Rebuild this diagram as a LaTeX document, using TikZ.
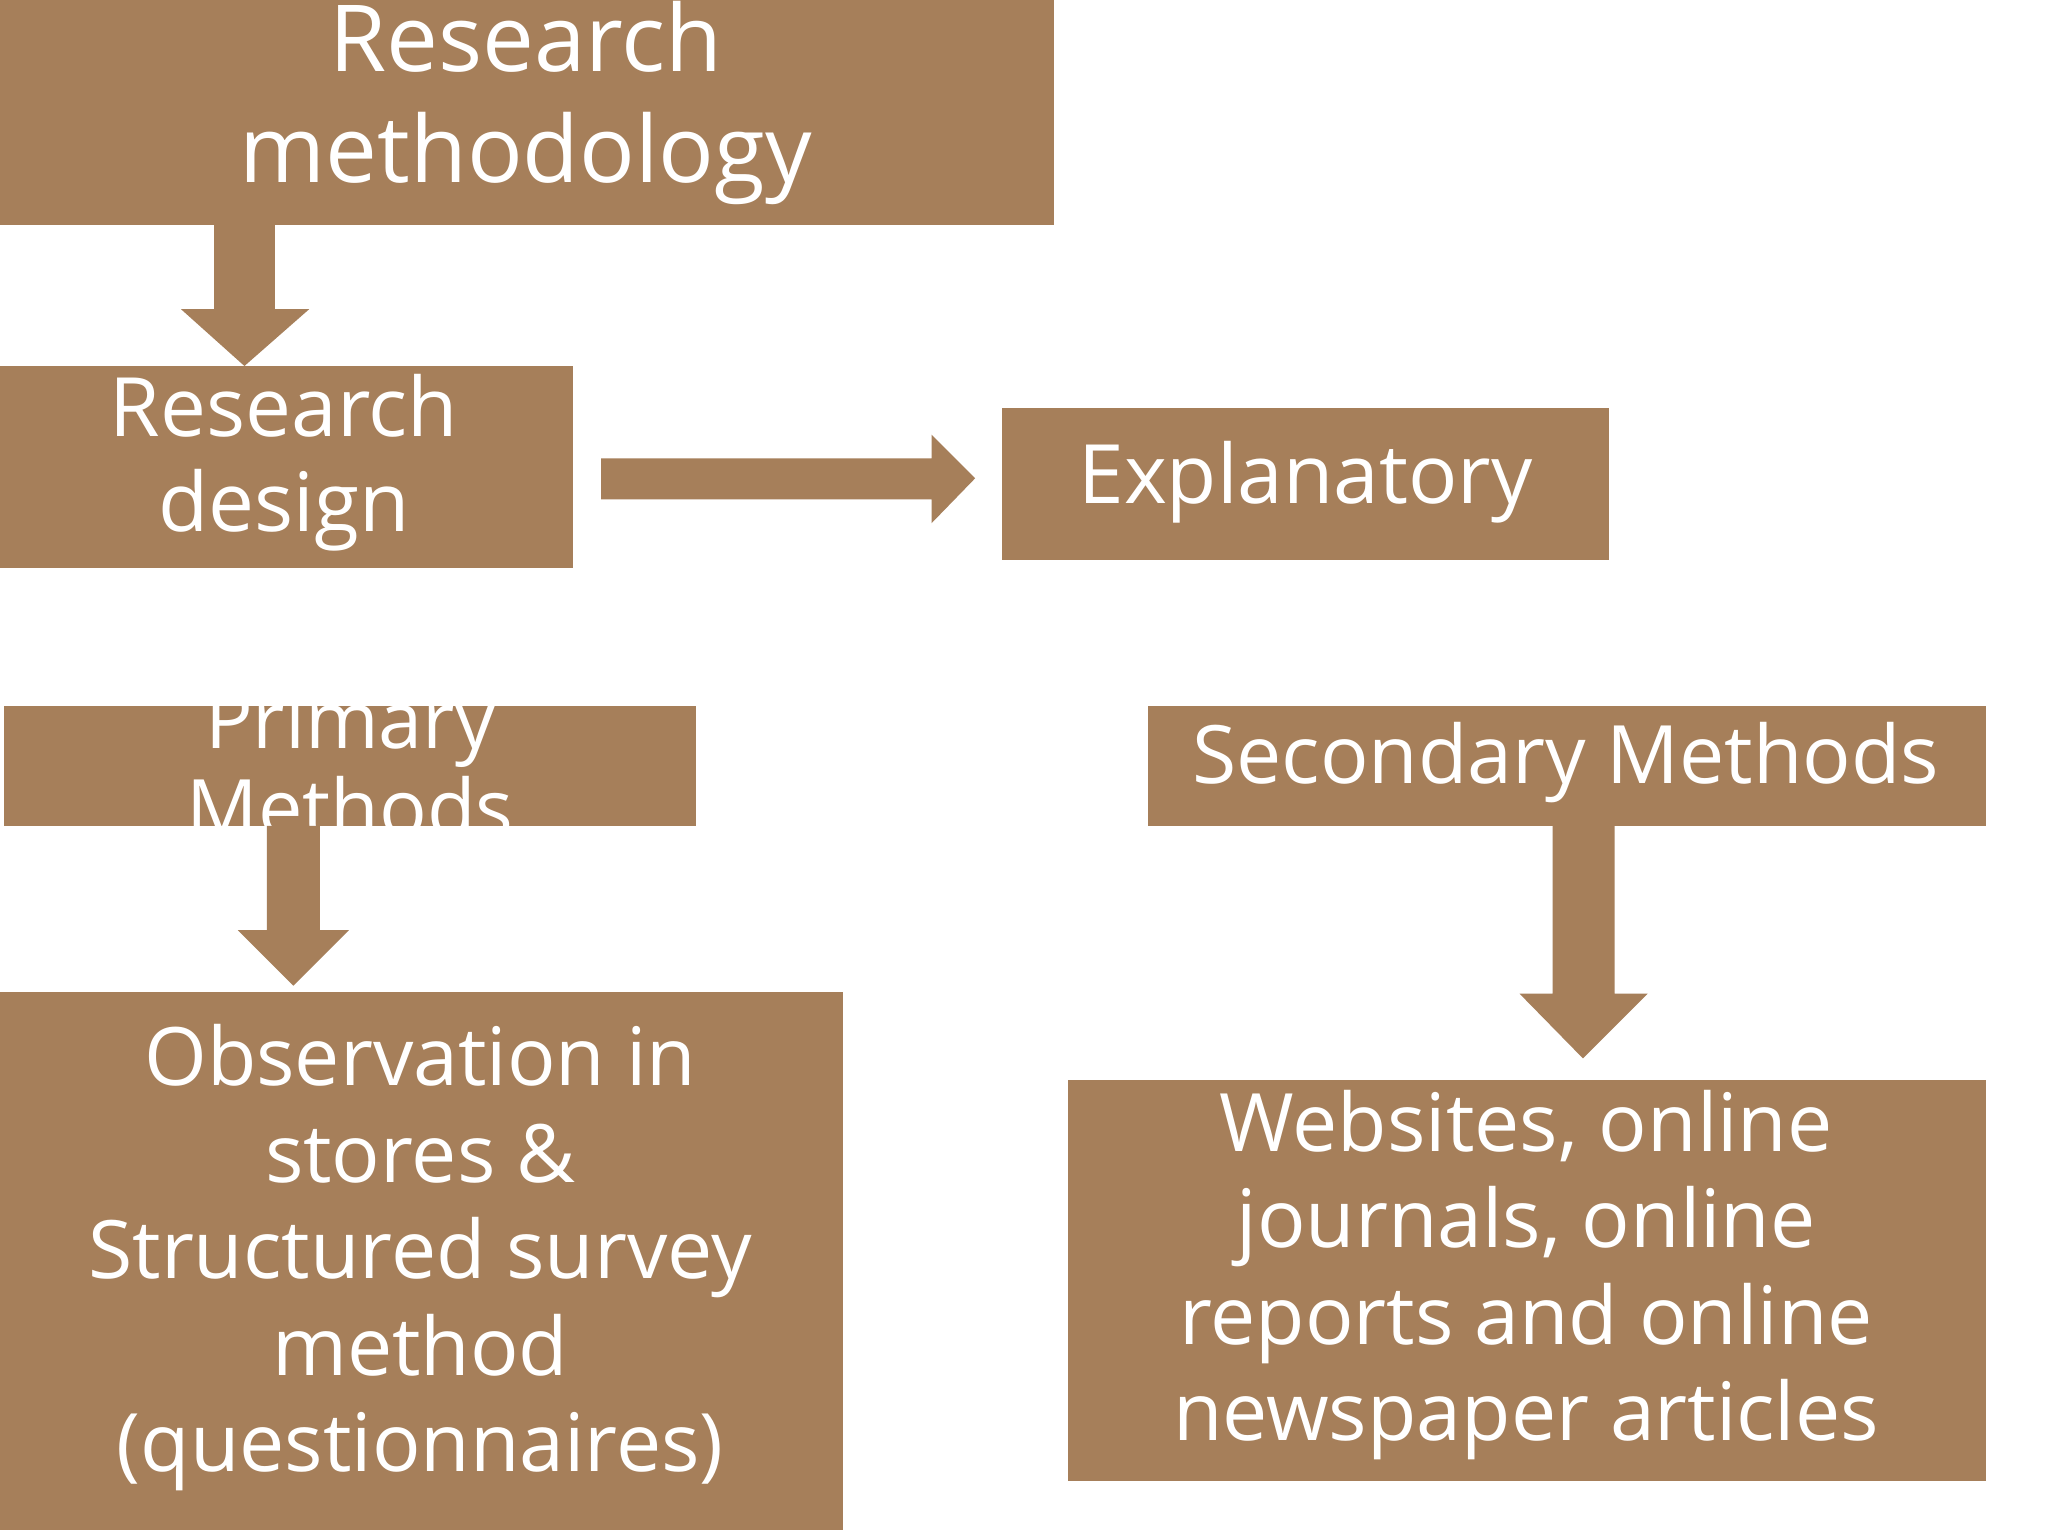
\documentclass[tikz,border=0pt]{standalone}
\usepackage{fontspec}
\setmainfont{Open Sans}
\definecolor{box}{HTML}{A67F5A}
\begin{document}
\begin{tikzpicture}[x=0.5pt,y=-0.5pt,
  bx/.style={fill=box,draw=none},
  tx/.style={text=white,align=center,inner sep=0pt}]
\useasboundingbox (0,0) rectangle (1550,1162);
\fill[white] (0,0) rectangle (1550,1162);
% boxes
\fill[bx] (0,0) rectangle (798,170);
\node[tx,font=\fontsize{35}{42}\selectfont] (rm) at (398,78) {Research\\methodology};
\fill[bx] (0,277) rectangle (434,430);
\node[tx,font=\fontsize{31}{36}\selectfont] (rd) at (215,350) {Research\\design};
\fill[bx] (758,309) rectangle (1218,424);
\node[tx,font=\fontsize{31}{36}\selectfont] (ex) at (988,365) {Explanatory};
\fill[bx] (3,534) rectangle (527,625);
\begin{scope}
\clip (3,534) rectangle (527,625);
\node[tx,font=\fontsize{30}{33}\selectfont] (pm) at (265,578) {Primary\\Methods};
\end{scope}
\fill[bx] (869,534) rectangle (1503,625);
\node[tx,font=\fontsize{30.5}{36}\selectfont] (sm) at (1185,577) {Secondary Methods};
\fill[bx] (0,751) rectangle (638,1158);
\node[tx,font=\fontsize{30.5}{36.5}\selectfont] (ob) at (318,952) {Observation in\\stores \&\\Structured survey\\method\\(questionnaires)};
\fill[bx] (808,817) rectangle (1503,1121);
\node[tx,font=\fontsize{30.5}{36.5}\selectfont] (ws) at (1155,965) {Websites, online\\journals, online\\reports and online\\newspaper articles};
% block arrows
\fill[bx] (162,170) -- (208,170) -- (208,234) -- (234,234) -- (185,277) -- (137,234) -- (162,234) -- cycle;
\fill[bx] (455,347) -- (705,347) -- (705,329) -- (738,362) -- (705,396) -- (705,378) -- (455,378) -- cycle;
\fill[bx] (202,625) -- (242,625) -- (242,704) -- (264,704) -- (222,746) -- (180,704) -- (202,704) -- cycle;
\fill[bx] (1175,625) -- (1222,625) -- (1222,752) -- (1247,752) -- (1198,801) -- (1150,752) -- (1175,752) -- cycle;
\end{tikzpicture}
\end{document}
